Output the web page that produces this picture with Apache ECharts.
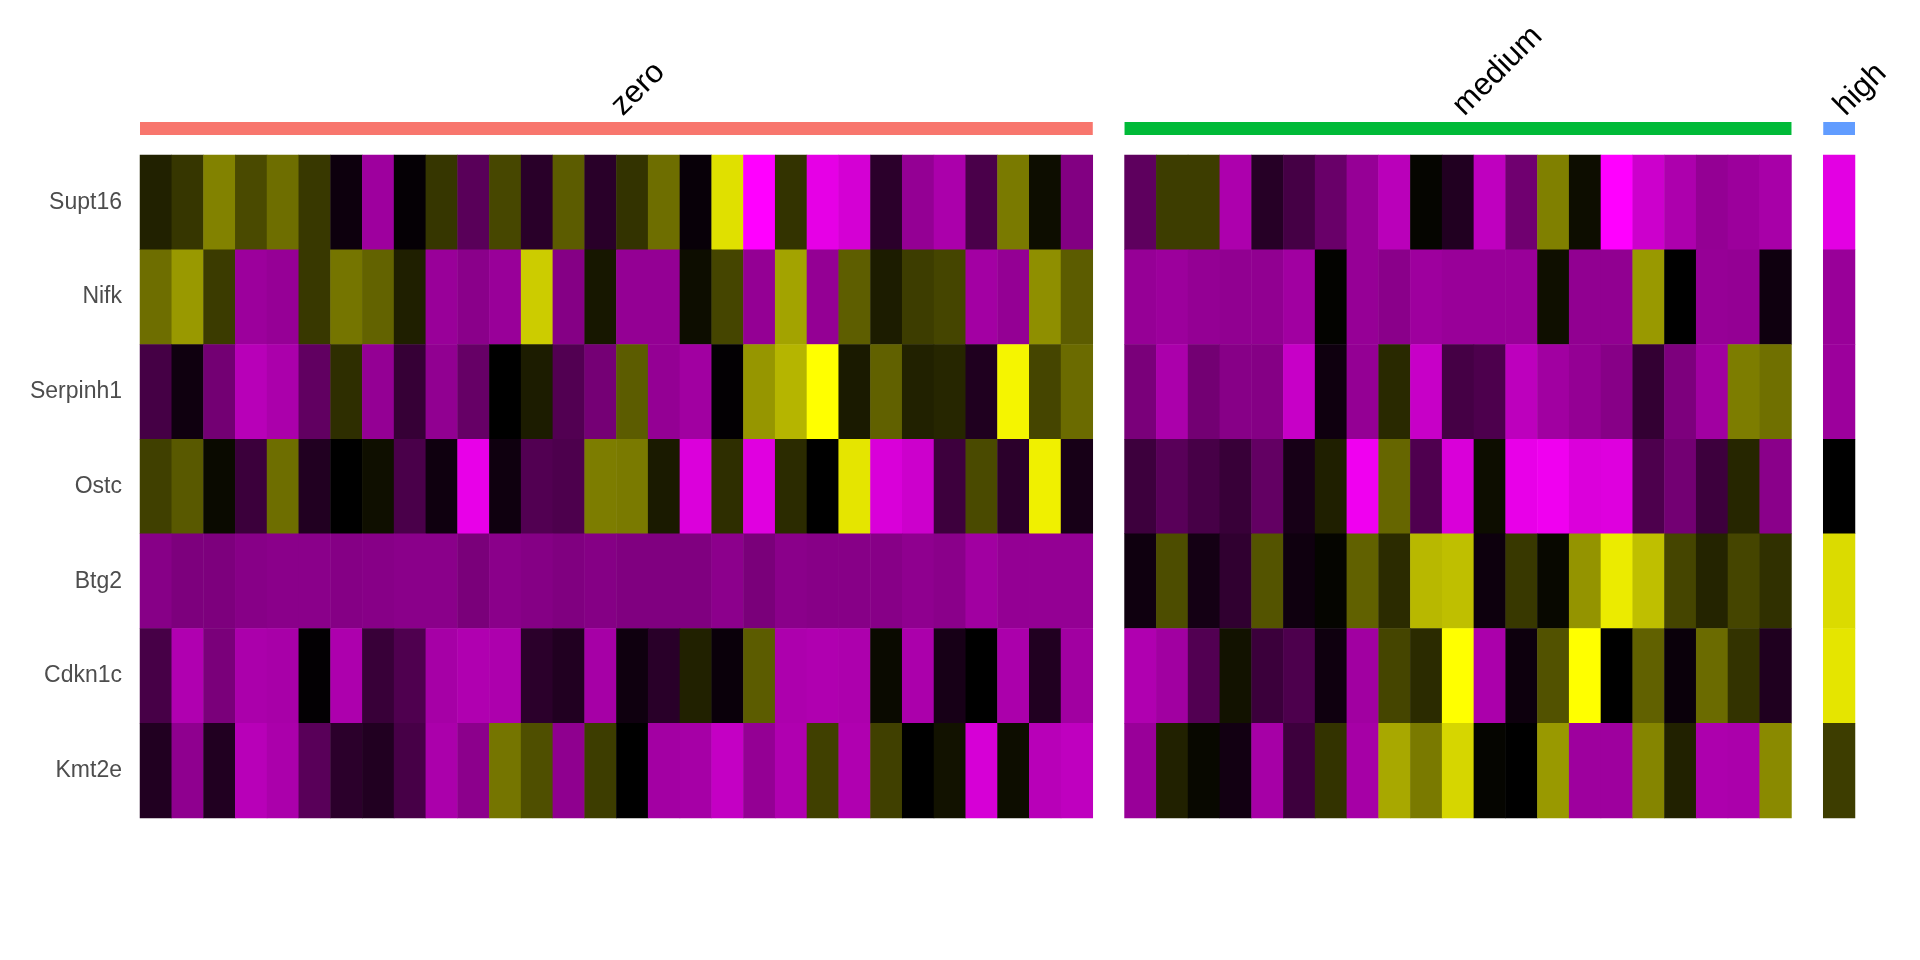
<!DOCTYPE html>
<html>
<head>
<meta charset="utf-8">
<script src="https://cdn.jsdelivr.net/npm/echarts@6/dist/echarts.min.js"></script>
<style>
html,body{margin:0;padding:0;background:#fff;}
#chart{width:1920px;height:960px;}
</style>
</head>
<body>
<div id="chart"></div>
<script>
// Genes (rows, top to bottom)
const genes = ['Supt16','Nifk','Serpinh1','Ostc','Btg2','Cdkn1c','Kmt2e'];
// Groups
const groupNames = ['zero','medium','high'];
const groupColors = ['#F8766D','#00BA38','#619CFF'];

// Scaled expression, one row per gene (magenta = low, black = mid, yellow = high)
const zeroValues = [
  [0.13,0.21,0.51,0.29,0.43,0.22,-0.05,-0.62,-0.02,0.21,-0.35,0.28,-0.16,0.36,-0.16,0.20,0.43,-0.03,0.88,-1.00,0.20,-0.90,-0.83,-0.17,-0.58,-0.67,-0.29,0.48,0.05,-0.51],
  [0.43,0.60,0.23,-0.61,-0.59,0.22,0.46,0.39,0.12,-0.60,-0.54,-0.60,0.80,-0.52,0.09,-0.58,-0.58,0.05,0.27,-0.58,0.64,-0.58,0.37,0.11,0.24,0.27,-0.64,-0.58,0.56,0.36],
  [-0.27,-0.06,-0.45,-0.72,-0.67,-0.38,0.18,-0.58,-0.21,-0.57,-0.40,0.00,0.11,-0.32,-0.46,0.36,-0.58,-0.63,-0.01,0.59,0.71,1.00,0.10,0.38,0.13,0.15,-0.12,0.96,0.27,0.42],
  [0.25,0.35,0.04,-0.23,0.43,-0.13,0.00,0.06,-0.29,-0.06,-0.91,-0.06,-0.32,-0.30,0.49,0.48,0.10,-0.86,0.18,-0.88,0.17,0.00,0.90,-0.85,-0.80,-0.24,0.29,-0.17,0.94,-0.09],
  [-0.53,-0.49,-0.49,-0.53,-0.54,-0.54,-0.52,-0.53,-0.54,-0.54,-0.48,-0.54,-0.52,-0.50,-0.52,-0.50,-0.50,-0.50,-0.55,-0.48,-0.54,-0.53,-0.53,-0.53,-0.56,-0.54,-0.63,-0.58,-0.58,-0.58],
  [-0.28,-0.69,-0.48,-0.67,-0.66,-0.01,-0.68,-0.22,-0.31,-0.65,-0.69,-0.68,-0.17,-0.13,-0.65,-0.06,-0.16,0.13,-0.04,0.36,-0.68,-0.69,-0.68,0.04,-0.67,-0.09,0.00,-0.67,-0.13,-0.63],
  [-0.13,-0.56,-0.13,-0.72,-0.67,-0.35,-0.17,-0.13,-0.28,-0.67,-0.55,0.46,0.31,-0.56,0.24,0.00,-0.64,-0.65,-0.77,-0.58,-0.69,0.25,-0.69,0.25,0.00,0.07,-0.84,0.05,-0.72,-0.75]
];
const mediumValues = [
  [-0.37,0.24,0.24,-0.68,-0.15,-0.27,-0.41,-0.59,-0.73,0.02,-0.13,-0.75,-0.44,0.50,0.05,-1.00,-0.80,-0.68,-0.58,-0.61,-0.66],
  [-0.59,-0.61,-0.58,-0.57,-0.57,-0.63,0.01,-0.59,-0.54,-0.62,-0.60,-0.60,-0.60,0.06,-0.57,-0.57,0.60,0.00,-0.59,-0.58,-0.06],
  [-0.48,-0.67,-0.45,-0.53,-0.52,-0.78,-0.06,-0.58,0.16,-0.78,-0.27,-0.30,-0.74,-0.63,-0.58,-0.53,-0.20,-0.49,-0.63,0.49,0.44],
  [-0.24,-0.35,-0.28,-0.22,-0.39,-0.09,0.12,-0.94,0.40,-0.31,-0.85,0.05,-0.91,-0.94,-0.86,-0.87,-0.30,-0.45,-0.24,0.15,-0.54],
  [-0.06,0.30,-0.08,-0.19,0.33,-0.06,0.02,0.38,0.17,0.72,0.75,-0.05,0.22,0.03,0.58,0.92,0.75,0.27,0.14,0.27,0.19],
  [-0.69,-0.63,-0.32,0.07,-0.23,-0.30,-0.06,-0.63,0.27,0.17,1.00,-0.67,-0.05,0.32,1.00,0.00,0.38,-0.04,0.42,0.20,-0.12],
  [-0.60,0.13,0.03,-0.07,-0.65,-0.24,0.20,-0.65,0.66,0.48,0.84,0.02,0.00,0.60,-0.62,-0.62,0.52,0.13,-0.68,-0.67,0.54]
];
const highValues = [
  [-0.89],[-0.60],[-0.61],[0.00],[0.86],[0.90],[0.24]
];
const groupValues = [zeroValues, mediumValues, highValues];

const chart = echarts.init(document.getElementById('chart'), null, {renderer:'canvas'});

// layout
const plotLeft = 140, plotRight = 1855, plotTop = 155, plotBottom = 818;
const counts = groupValues.map(g => g[0].length);
const totalCols = counts.reduce((a,b)=>a+b,0) + (counts.length - 1);
const cellW = (plotRight - plotLeft) / totalCols;

const grids = [], xAxes = [], yAxes = [], series = [];
let cursor = plotLeft;
groupValues.forEach((vals, gi) => {
  const n = vals[0].length;
  grids.push({left: cursor, top: plotTop, width: n * cellW, height: plotBottom - plotTop, containLabel: false});
  cursor += (n + 1) * cellW;
  const cats = Array.from({length: n}, (_, i) => groupNames[gi] + '_' + (i + 1));
  xAxes.push({type:'category', gridIndex: gi, data: cats, show: false});
  yAxes.push({
    type:'category', gridIndex: gi, data: genes, inverse: true,
    axisLine:{show:false}, axisTick:{show:false}, splitLine:{show:false},
    axisLabel:{show: gi === 0, fontSize: 23, color:'#4D4D4D', fontFamily:'Liberation Sans, Arial, sans-serif', margin: 18, padding:[10,0,0,0]}
  });
  const data = [];
  vals.forEach((row, r) => row.forEach((v, c) => data.push([c, r, v])));
  series.push({
    type:'heatmap', xAxisIndex: gi, yAxisIndex: gi, data: data,
    itemStyle:{borderWidth:0}, emphasis:{disabled:true}, progressive: 0
  });
});

// group annotation bars + labels
groupValues.forEach((vals, gi) => {
  const n = vals[0].length;
  series.push({
    type:'custom', xAxisIndex: gi, yAxisIndex: gi, silent: true, clip: false,
    data: [[0, 0]],
    renderItem: function(params, api) {
      const cs = params.coordSys;
      const first = api.coord([0, 0]);
      const last = api.coord([n - 1, 0]);
      const sz = api.size([1, 1]);
      const x0 = first[0] - sz[0] / 2;
      const w = last[0] - first[0] + sz[0];
      const cx = x0 + w / 2;
      return {
        type:'group',
        children:[
          {type:'rect', shape:{x: x0, y: cs.y - 33, width: w, height: 13}, style:{fill: groupColors[gi]}},
          {type:'text', x: cx + 11.5, y: cs.y - 33, rotation: Math.PI / 4,
           style:{text: groupNames[gi], fontSize: 31.5, fill:'#000', fontFamily:'Liberation Sans, Arial, sans-serif', align:'left', verticalAlign:'bottom'}}
        ]
      };
    }
  });
});

chart.setOption({
  animation: false,
  backgroundColor: '#ffffff',
  grid: grids,
  xAxis: xAxes,
  yAxis: yAxes,
  visualMap: {
    type:'continuous', show:false, min:-1, max:1, seriesIndex:[0,1,2],
    inRange:{color:['#FF00FF','#000000','#FFFF00']}
  },
  series: series
});
</script>
</body>
</html>
